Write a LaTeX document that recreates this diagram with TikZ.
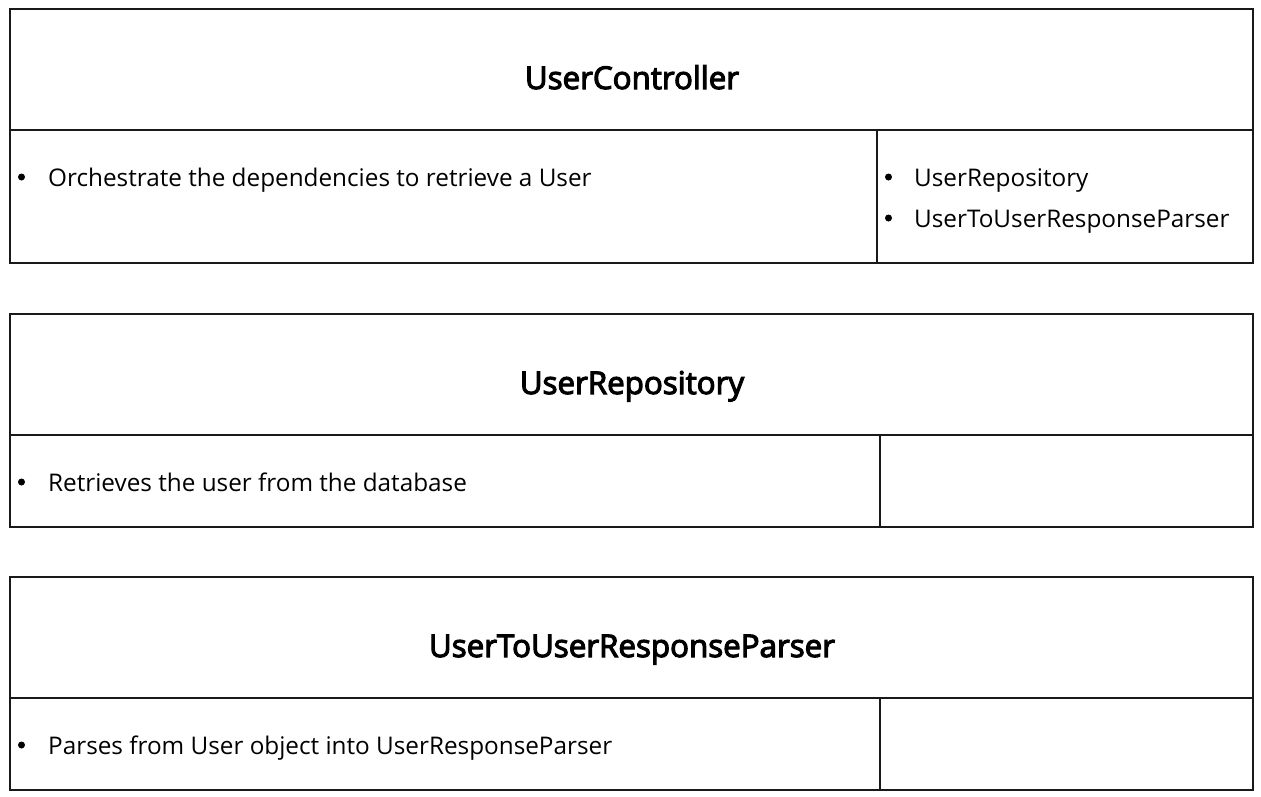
\documentclass[tikz,border=0pt]{standalone}
\usepackage{fontspec}
\setmainfont{Open Sans}
\newfontfamily\titlefont{Open Sans}[FakeBold=3.5]
\begin{document}
\begin{tikzpicture}[x=1pt,y=-1pt,
  cell/.style={draw=black!90, line width=1.6pt, outer sep=0pt, inner sep=0pt, anchor=north west},
  title/.style={font=\titlefont\fontsize{31.3}{36}\selectfont, anchor=base, inner sep=0pt},
  item/.style={font=\fontsize{24.3}{28}\selectfont, anchor=base west, inner sep=0pt},
  dot/.style={circle, fill=black, inner sep=0pt, minimum size=7pt}]
\useasboundingbox (0,0) rectangle (1261,796);
% Card 1
\node[cell, minimum width=1243pt, minimum height=121pt] (h1) at (10,9) {};
\node[cell, minimum width=867pt, minimum height=133pt] (r1) at (10,130) {};
\node[cell, minimum width=376pt, minimum height=133pt] (k1) at (877,130) {};
\node[title] (t1) at (632,89) {UserController};
\node[dot] (b1) at (21.5,177) {};
\node[item] (i1) at (48,186) {Orchestrate the dependencies to retrieve a User};
\node[dot] (b1a) at (888.5,177) {};
\node[item] (c1a) at (914,186) {UserRepository};
\node[dot] (b1b) at (888.5,218) {};
\node[item] (c1b) at (914,227) {UserToUserResponseParser};
% Card 2
\node[cell, minimum width=1243pt, minimum height=121pt] (h2) at (10,314) {};
\node[cell, minimum width=870pt, minimum height=92pt] (r2) at (10,435) {};
\node[cell, minimum width=373pt, minimum height=92pt] (k2) at (880,435) {};
\node[title] (t2) at (632,394) {UserRepository};
\node[dot] (b2) at (21.5,482) {};
\node[item] (i2) at (48,491) {Retrieves the user from the database};
% Card 3
\node[cell, minimum width=1243pt, minimum height=121pt] (h3) at (10,577) {};
\node[cell, minimum width=870pt, minimum height=92pt] (r3) at (10,698) {};
\node[cell, minimum width=373pt, minimum height=92pt] (k3) at (880,698) {};
\node[title] (t3) at (632,657) {UserToUserResponseParser};
\node[dot] (b3) at (21.5,745) {};
\node[item] (i3) at (48,754) {Parses from User object into UserResponseParser};
\end{tikzpicture}
\end{document}
